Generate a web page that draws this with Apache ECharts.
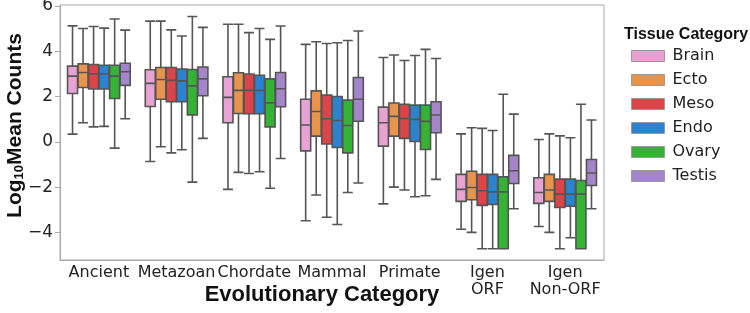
<!DOCTYPE html>
<html>
<head>
<meta charset="utf-8">
<script src="https://cdn.jsdelivr.net/npm/echarts@6/dist/echarts.min.js"></script>
<style>
  html, body { margin: 0; padding: 0; background: #fff; }
  #chart { width: 750px; height: 313px; }
</style>
</head>
<body>
<div id="chart"></div>
<script>
const categories = ["Ancient", "Metazoan", "Chordate", "Mammal", "Primate", "Igen\nORF", "Igen\nNon-ORF"];
const tissues = ["Brain", "Ecto", "Meso", "Endo", "Ovary", "Testis"];
const colors = ["#e8a2d4", "#e8944c", "#db4449", "#2b82cf", "#34b334", "#a585c9"];
const yTicks = [-4, -2, 0, 2, 4, 6];

// each box: [low whisker, q1, median, q3, high whisker]
const brain = [
  [0.34, 2.13, 2.90, 3.34, 5.12],
  [-0.87, 1.56, 2.58, 3.18, 5.33],
  [-2.10, 0.84, 1.96, 2.87, 5.19],
  [-3.49, -0.40, 0.74, 1.88, 4.30],
  [-2.74, -0.19, 0.84, 1.53, 3.72],
  [-3.86, -2.63, -2.10, -1.44, 0.35],
  [-3.74, -2.72, -2.24, -1.59, 0.10]
];
const ecto = [
  [0.84, 2.40, 3.06, 3.44, 5.00],
  [-0.22, 1.88, 2.75, 3.28, 5.33],
  [-1.35, 1.25, 2.27, 3.05, 5.19],
  [-2.35, 0.25, 1.34, 2.25, 4.42],
  [-2.00, 0.25, 1.12, 1.71, 3.83],
  [-4.00, -2.56, -2.02, -1.30, 0.62],
  [-4.00, -2.63, -2.13, -1.44, 0.35]
];
const meso = [
  [0.66, 2.33, 3.00, 3.41, 5.09],
  [-0.49, 1.77, 2.71, 3.28, 4.94],
  [-1.40, 1.24, 2.27, 2.99, 4.82],
  [-3.33, -0.10, 1.02, 2.06, 4.34],
  [-2.13, 0.15, 1.03, 1.66, 3.59],
  [-4.72, -2.81, -2.16, -1.44, 0.59],
  [-4.72, -2.90, -2.31, -1.65, 0.26]
];
const endo = [
  [0.68, 2.33, 2.99, 3.38, 5.02],
  [-0.35, 1.77, 2.69, 3.21, 4.67],
  [-1.32, 1.24, 2.27, 2.94, 5.00],
  [-3.65, -0.25, 0.94, 2.00, 4.37],
  [-2.43, 0.01, 0.99, 1.62, 3.81],
  [-4.72, -2.77, -2.21, -1.44, 0.50],
  [-4.24, -2.84, -2.31, -1.65, 0.18]
];
const ovary = [
  [-0.28, 1.91, 2.90, 3.38, 5.42],
  [-1.78, 1.19, 2.47, 3.19, 5.53],
  [-2.05, 0.66, 1.72, 2.78, 4.52],
  [-2.24, -0.49, 0.72, 1.84, 4.47],
  [-2.38, -0.34, 0.90, 1.62, 4.08],
  [-4.72, -4.72, -2.21, -1.55, 2.10],
  [-4.72, -4.72, -2.31, -1.71, 1.66]
];
const testis = [
  [1.02, 2.49, 3.09, 3.47, 4.93],
  [0.15, 2.03, 2.78, 3.30, 5.05],
  [-0.74, 1.55, 2.34, 3.06, 5.11],
  [-1.82, 0.91, 1.88, 2.84, 4.89],
  [-1.66, 0.40, 1.18, 1.77, 3.68],
  [-2.96, -1.84, -1.28, -0.60, 1.22],
  [-2.96, -1.93, -1.38, -0.78, 0.96]
];
const boxes = [brain, ecto, meso, endo, ovary, testis];

const chart = echarts.init(document.getElementById("chart"));
const tickFont = "DejaVu Sans";
const titleFont = "Liberation Sans";

chart.setOption({
  animation: false,
  title: {
    text: "Tissue Category",
    left: 619,
    top: 22,
    textStyle: { fontFamily: titleFont, fontWeight: "bold", fontSize: 16, color: "#111" }
  },
  legend: {
    orient: "vertical",
    left: 626,
    top: 43,
    itemWidth: 33,
    itemHeight: 11,
    itemGap: 8,
    icon: "rect",
    textStyle: { fontFamily: tickFont, fontSize: 16, color: "#222", padding: [0, 0, 0, 3] },
    data: tissues.map((name, i) => ({
      name,
      itemStyle: { color: colors[i], borderColor: "#999", borderWidth: 1 }
    }))
  },
  grid: {
    left: 60,
    right: 146,
    top: 5,
    bottom: 53,
    outerBoundsMode: "none",
    containLabel: false,
    show: true,
    borderColor: "#aaa",
    borderWidth: 1
  },
  xAxis: {
    type: "category",
    data: categories,
    name: "Evolutionary Category",
    nameLocation: "middle",
    nameGap: 24,
    nameMoveOverlap: false,
    nameTextStyle: {
      fontFamily: titleFont, fontWeight: "bold", fontSize: 22, color: "#111",
      padding: [0, 20, 0, 0]
    },
    axisLine: { onZero: false, lineStyle: { color: "#aaa" } },
    axisTick: { alignWithLabel: true, length: 4, lineStyle: { color: "#aaa" } },
    axisLabel: { fontFamily: tickFont, fontSize: 16, color: "#222", margin: 4, lineHeight: 17, interval: 0 },
    splitLine: { show: false }
  },
  yAxis: {
    type: "value",
    min: -5.22,
    max: 6.04,
    name: "{b|Log}{s|10}{b|Mean Counts}",
    nameLocation: "middle",
    nameRotate: 90,
    nameGap: 34,
    nameMoveOverlap: false,
    nameTextStyle: {
      padding: [0, 0, 0, 14],
      rich: {
        b: { fontFamily: titleFont, fontWeight: "bold", fontSize: 21, color: "#111" },
        s: { fontFamily: titleFont, fontWeight: "bold", fontSize: 13, color: "#111", padding: [9, 0, 0, 0] }
      }
    },
    axisLine: { show: true, lineStyle: { color: "#aaa" } },
    axisTick: { show: true, length: 5, customValues: yTicks, lineStyle: { color: "#aaa" } },
    axisLabel: {
      fontFamily: tickFont, fontSize: 17, color: "#222", margin: 7,
      customValues: yTicks,
      formatter: (v) => (v < 0 ? "\u2212" + Math.abs(v) : String(v))
    },
    splitLine: { show: false }
  },
  series: tissues.map((name, i) => ({
    name,
    type: "boxplot",
    data: boxes[i],
    boxWidth: [10, 10],
    itemStyle: { color: colors[i], borderColor: "#555", borderWidth: 1.6 },
    emphasis: { disabled: true }
  }))
});
</script>
</body>
</html>
